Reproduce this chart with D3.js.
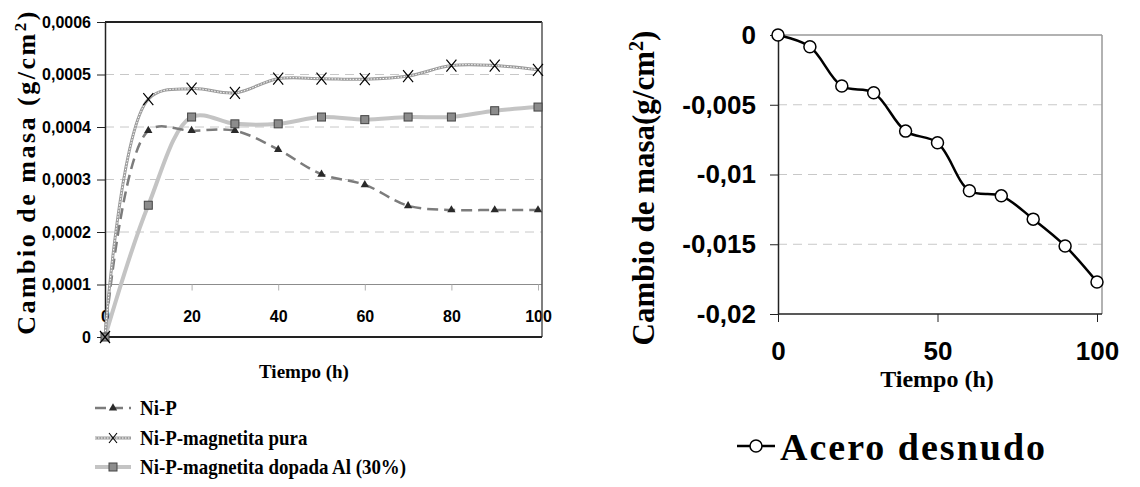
<!DOCTYPE html>
<html>
<head>
<meta charset="utf-8">
<script src="https://cdn.jsdelivr.net/npm/d3@7"></script>
<style>
  body { margin:0; background:#fff; }
  svg { display:block; }
  .tickL text { font-family:"Liberation Sans",Arial,sans-serif; font-weight:bold; font-size:16px; fill:#000; }
  .tickR text { font-family:"Liberation Sans",Arial,sans-serif; font-weight:bold; font-size:26px; fill:#000; }
  .ttl { font-family:"Liberation Serif","Times New Roman",serif; font-weight:bold; fill:#000; }
</style>
</head>
<body>
<svg id="chart" width="1140" height="487"></svg>
<script>
// left chart data
var hours = [0,10,20,30,40,50,60,70,80,90,100];
var niP = [0,0.000393,0.000393,0.000393,0.000357,0.00031,0.00029,0.00025,0.000242,0.000242,0.000242];
var niPMagPura = [0,0.000453,0.000473,0.000465,0.000492,0.000492,0.000491,0.000497,0.000517,0.000517,0.000509];
var niPMagAl = [0,0.000251,0.000419,0.000406,0.000406,0.000419,0.000414,0.000419,0.000419,0.000431,0.000438];
var seriesNames = ["Ni-P","Ni-P-magnetita pura","Ni-P-magnetita dopada Al (30%)"];
var yTicksL = [0,0.0001,0.0002,0.0003,0.0004,0.0005,0.0006];
var yTickLabelsL = ["0","0,0001","0,0002","0,0003","0,0004","0,0005","0,0006"];
var xTicksL = [0,20,40,60,80,100];

// right chart data
var acero = [0,-0.00084,-0.00366,-0.00414,-0.00689,-0.00773,-0.01117,-0.01153,-0.0132,-0.01512,-0.0177];
var acroName = "Acero desnudo";
var yTicksR = [0,-0.005,-0.01,-0.015,-0.02];
var yTickLabelsR = ["0","-0,005","-0,01","-0,015","-0,02"];
var xTicksR = [0,50,100];

var svg = d3.select("#chart");

document.addEventListener('DOMContentLoaded', function() {
  drawLeft();
  drawRight();
});

function drawLeft(){
  var x = d3.scaleLinear().domain([0,100]).range([105,538]);
  var y = d3.scaleLinear().domain([0,0.0006]).range([337,22]);
  var g = svg.append("g");

  // dashed grid
  g.selectAll(".gridL").data([0.0002,0.0003,0.0004,0.0005]).enter().append("line")
    .attr("x1",105).attr("x2",542)
    .attr("y1",function(d){return y(d);}).attr("y2",function(d){return y(d);})
    .attr("stroke","#c8c8c8").attr("stroke-width",1).attr("stroke-dasharray","9,6");

  // x axis crossing at 0.0001
  var xa = g.append("g").attr("class","tickL")
    .attr("transform","translate(0,"+y(0.0001)+")")
    .call(d3.axisBottom(x).tickValues(xTicksL).tickSize(6).tickSizeOuter(0));
  xa.select(".domain").attr("stroke","#8c8c8c").attr("d","M105,0H542");
  xa.selectAll(".tick line").attr("stroke","#b0b0b0");
  xa.selectAll(".tick text").attr("y",26);

  // frame
  g.append("line").attr("x1",105).attr("x2",542).attr("y1",22).attr("y2",22).attr("stroke","#222").attr("stroke-width",2);
  g.append("line").attr("x1",542).attr("x2",542).attr("y1",22).attr("y2",337).attr("stroke","#555").attr("stroke-width",1.5);
  g.append("line").attr("x1",105).attr("x2",542).attr("y1",337).attr("y2",337).attr("stroke","#222").attr("stroke-width",2);

  var ya = g.append("g").attr("class","tickL")
    .attr("transform","translate(105,0)")
    .call(d3.axisLeft(y).tickValues(yTicksL).tickSize(8).tickSizeOuter(0)
      .tickFormat(function(d,i){return yTickLabelsL[i];}));
  ya.select(".domain").attr("stroke","#222").attr("stroke-width",1.5);
  ya.selectAll(".tick line").attr("stroke","#222");
  ya.selectAll(".tick text").attr("x",-14);

  var line = function(vals){
    return d3.line().curve(d3.curveCatmullRom)
      .x(function(d,i){return x(hours[i]);})
      .y(function(d){return y(d);})(vals);
  };

  // Ni-P magnetita dopada Al
  g.append("path").attr("d",line(niPMagAl)).attr("fill","none").attr("stroke","#c4c4c4").attr("stroke-width",4);
  // Ni-P
  g.append("path").attr("d",line(niP)).attr("fill","none").attr("stroke","#7c7c7c").attr("stroke-width",2.5).attr("stroke-dasharray","11,6");
  // Ni-P magnetita pura (textured)
  g.append("path").attr("d",line(niPMagPura)).attr("fill","none").attr("stroke","#9c9c9c").attr("stroke-width",3);
  g.append("path").attr("d",line(niPMagPura)).attr("fill","none").attr("stroke","#fff").attr("stroke-width",1).attr("stroke-dasharray","1.5,1.5");

  var tri = d3.symbol().type(d3.symbolTriangle).size(30);
  g.selectAll(".triP").data(niP).enter().append("path")
    .attr("transform",function(d,i){return "translate("+x(hours[i])+","+y(d)+")";})
    .attr("d",tri).attr("fill","#2a2a2a");
  g.selectAll(".sqP").data(niPMagAl).enter().append("rect")
    .attr("x",function(d,i){return x(hours[i])-4;}).attr("y",function(d){return y(d)-4;})
    .attr("width",8).attr("height",8).attr("fill","#8c8c8c").attr("stroke","#444").attr("stroke-width",1);
  g.selectAll(".xP").data(niPMagPura).enter().append("path")
    .attr("transform",function(d,i){return "translate("+x(hours[i])+","+y(d)+")";})
    .attr("d","M-5,-6L5,6M-5,6L5,-6").attr("stroke","#000").attr("stroke-width",1.2).attr("fill","none");

  // titles
  var yt = g.append("text").attr("class","ttl")
    .attr("transform","translate(35,172) rotate(-90)")
    .attr("text-anchor","middle").style("font-size","26px").style("letter-spacing","2.5px");
  yt.append("tspan").text("Cambio de masa (g/cm");
  yt.append("tspan").attr("baseline-shift","super").style("font-size","17px").text("2");
  yt.append("tspan").text(")");
  g.append("text").attr("class","ttl").attr("x",304).attr("y",378)
    .attr("text-anchor","middle").style("font-size","19px").text("Tiempo (h)");

  // legend
  var legY = [408,438,467];
  var leg = g.selectAll(".legL").data(seriesNames).enter().append("g")
    .attr("transform",function(d,i){return "translate(0,"+legY[i]+")";});
  leg.append("text").attr("class","ttl").attr("transform","translate(140,7) scale(0.9,1)")
    .style("font-size","21px").text(function(d){return d;});
  var l0 = d3.select(leg.nodes()[0]);
  l0.append("line").attr("x1",95).attr("x2",131).attr("stroke","#7c7c7c").attr("stroke-width",2.5).attr("stroke-dasharray","11,6");
  l0.append("path").attr("transform","translate(113,0)").attr("d",tri).attr("fill","#2a2a2a");
  var l1 = d3.select(leg.nodes()[1]);
  l1.append("line").attr("x1",95).attr("x2",131).attr("stroke","#9c9c9c").attr("stroke-width",3);
  l1.append("line").attr("x1",95).attr("x2",131).attr("stroke","#fff").attr("stroke-width",1).attr("stroke-dasharray","1.5,1.5");
  l1.append("path").attr("transform","translate(113,0)").attr("d","M-4,-5L4,5M-4,5L4,-5").attr("stroke","#000").attr("stroke-width",1.1);
  var l2 = d3.select(leg.nodes()[2]);
  l2.append("line").attr("x1",95).attr("x2",131).attr("stroke","#c4c4c4").attr("stroke-width",4);
  l2.append("rect").attr("x",109).attr("y",-4).attr("width",8).attr("height",8).attr("fill","#8c8c8c").attr("stroke","#444");
}

function drawRight(){
  var x = d3.scaleLinear().domain([0,100]).range([778,1097]);
  var y = d3.scaleLinear().domain([-0.02,0]).range([314,35]);
  var g = svg.append("g");

  g.selectAll(".gridR").data([-0.005,-0.01,-0.015]).enter().append("line")
    .attr("x1",778).attr("x2",1102)
    .attr("y1",function(d){return y(d);}).attr("y2",function(d){return y(d);})
    .attr("stroke","#c8c8c8").attr("stroke-width",1).attr("stroke-dasharray","9,6");

  g.append("line").attr("x1",778).attr("x2",1102).attr("y1",35).attr("y2",35).attr("stroke","#999").attr("stroke-width",1.5);
  g.append("line").attr("x1",1102).attr("x2",1102).attr("y1",35).attr("y2",314).attr("stroke","#999").attr("stroke-width",1.5);

  var xa = g.append("g").attr("class","tickR")
    .attr("transform","translate(0,314)")
    .call(d3.axisBottom(x).tickValues(xTicksR).tickSize(8).tickSizeOuter(0));
  xa.select(".domain").attr("stroke","#222").attr("stroke-width",1.5).attr("d","M778,0H1102");
  xa.selectAll(".tick line").attr("stroke","#222");
  xa.selectAll(".tick text").attr("y",28);

  var ya = g.append("g").attr("class","tickR")
    .attr("transform","translate(778,0)")
    .call(d3.axisLeft(y).tickValues(yTicksR).tickSize(8).tickSizeOuter(0)
      .tickFormat(function(d,i){return yTickLabelsR[i];}));
  ya.select(".domain").attr("stroke","#222").attr("stroke-width",1.5);
  ya.selectAll(".tick line").attr("stroke","#222");
  ya.selectAll(".tick text").attr("x",-22);

  var line = d3.line().curve(d3.curveCatmullRom)
    .x(function(d,i){return x(hours[i]);})
    .y(function(d){return y(d);});
  g.append("path").attr("d",line(acero)).attr("fill","none").attr("stroke","#000").attr("stroke-width",2.5);
  g.selectAll(".cR").data(acero).enter().append("circle")
    .attr("cx",function(d,i){return x(hours[i]);}).attr("cy",function(d){return y(d);})
    .attr("r",6).attr("fill","#fff").attr("stroke","#000").attr("stroke-width",1.5);

  var yt = g.append("text").attr("class","ttl")
    .attr("transform","translate(654,188) rotate(-90)")
    .attr("text-anchor","middle").style("font-size","31px");
  yt.append("tspan").text("Cambio de masa(g/cm");
  yt.append("tspan").attr("baseline-shift","super").style("font-size","20px").text("2");
  yt.append("tspan").text(")");
  g.append("text").attr("class","ttl").attr("x",937).attr("y",387)
    .attr("text-anchor","middle").style("font-size","24px").text("Tiempo (h)");

  // legend
  g.append("line").attr("x1",737).attr("x2",775).attr("y1",446).attr("y2",446).attr("stroke","#000").attr("stroke-width",2.5);
  g.append("circle").attr("cx",756).attr("cy",446).attr("r",6).attr("fill","#fff").attr("stroke","#000").attr("stroke-width",1.5);
  g.append("text").attr("class","ttl").attr("x",780).attr("y",460).style("font-size","38px").style("letter-spacing","2px").text(acroName);
}
</script>
</body>
</html>
